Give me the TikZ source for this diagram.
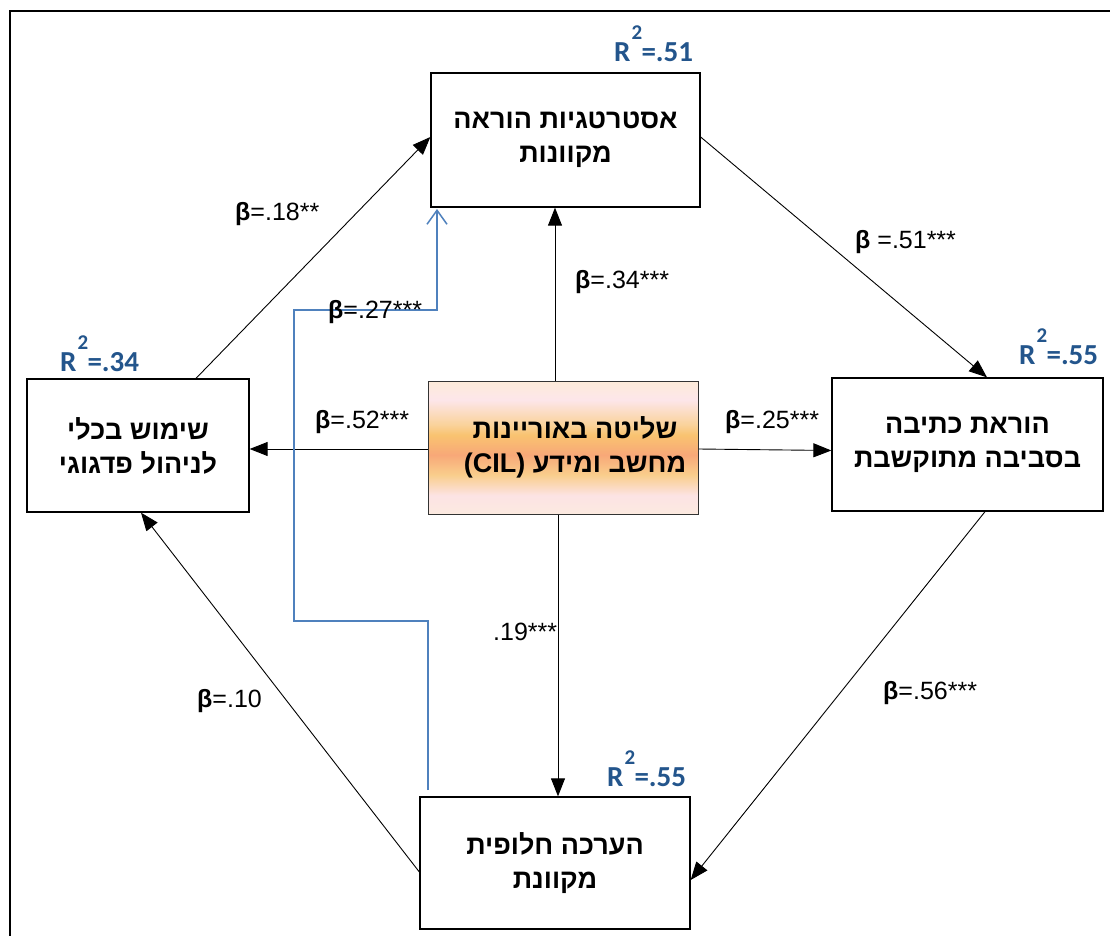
\documentclass[tikz,border=0pt]{standalone}
\usepackage{fontspec}
\setmainfont{Liberation Sans}
\newfontfamily\heb[Script=Hebrew]{Liberation Sans}
\newfontfamily\calib{Carlito}
\TeXXeTstate=1
\usetikzlibrary{arrows.meta,calc}
\definecolor{rblue}{RGB}{35,85,140}
\definecolor{lblue}{RGB}{79,129,189}
\definecolor{sA}{RGB}{252,234,224}
\definecolor{sB}{RGB}{252,227,228}
\definecolor{sC}{RGB}{249,206,140}
\definecolor{sD}{RGB}{248,168,120}
\definecolor{sE}{RGB}{249,195,112}
\definecolor{sF}{RGB}{250,210,154}
\definecolor{sG}{RGB}{253,230,234}
\definecolor{sH}{RGB}{253,235,217}
\pgfdeclareverticalshading{cilshade}{100bp}{color(0bp)=(sA); color(25bp)=(sA); color(32bp)=(sB); color(39.7bp)=(sC); color(47.2bp)=(sD); color(54.7bp)=(sE); color(58.5bp)=(sF); color(67.9bp)=(sG); color(75bp)=(sH); color(100bp)=(sH)}
\tikzset{
  box/.style={draw=black, line width=1.3pt, align=center, inner sep=0pt,
    font=\heb\bfseries\fontsize{27}{34}\selectfont},
  conn/.style={line width=0.9pt, -{Triangle[length=18pt,width=14pt]}},
  lab/.style={font=\fontsize{25}{28}\selectfont, inner sep=0pt, anchor=base west},
  rlab/.style={font=\calib\bfseries\fontsize{29}{32}\selectfont, text=rblue, inner sep=0pt, anchor=base west},
}
\newcommand{\rsq}[1]{R\rlap{\hspace{1pt}\raisebox{22pt}{\fontsize{21}{21}\selectfont\bfseries 2}}\hspace{0.38em}#1}
\newcommand{\bt}{\textbf{β}}
\begin{document}
\begin{tikzpicture}[x=1pt,y=-1pt]
\useasboundingbox (0,0) rectangle (1110,936);
\fill[white] (0,0) rectangle (1110,936);
\draw[line width=2pt] (10,936) -- (10,11) -- (1110,11);

\node[box, minimum width=269pt, minimum height=134pt] (top) at (565.5,140)
  {\beginR אסטרטגיות הוראה\endR\\\beginR מקוונות\endR};
\node[box, draw=black!80, line width=1pt, shading=cilshade, minimum width=270pt, minimum height=133pt] (cil) at (563,447.5)
  {\hspace*{24pt}\beginR שליטה באוריינות\endR\\\hspace*{24pt}\beginR מחשב ומידע \beginL(CIL)\endL\endR};
\node[box, minimum width=222pt, minimum height=133pt] (left) at (138,445.5)
  {\beginR שימוש בכלי\endR\\\beginR לניהול פדגוגי\endR};
\node[box, minimum width=271pt, minimum height=133pt] (right) at (967.5,444.5)
  {\beginR הוראת כתיבה\endR\\\beginR בסביבה מתוקשבת\endR};
\node[box, minimum width=270pt, minimum height=132pt] (bot) at (555,863)
  {\beginR הערכה חלופית\endR\\\beginR מקוונת\endR};

% connectors
\draw[conn] ([xshift=58pt]left.north) -- ([yshift=3pt]top.west);
\draw[conn] ([yshift=3pt]top.east) -- ([xshift=19.5pt]right.north);
\draw[conn] ([xshift=17.5pt]right.south) -- ([yshift=-17pt]bot.east);
\draw[conn] ([yshift=-9pt]bot.west) -- ([xshift=3pt]left.south);
\draw[conn] ([xshift=-8pt]cil.north) -- ([xshift=-8pt]cil.north |- top.south);
\draw[conn] ([yshift=-1.5pt]cil.west) -- ([yshift=-1.5pt]cil.west -| left.east);
\draw[conn] ([yshift=-1.5pt]cil.east) -- ([yshift=-6pt]right.west);
\draw[conn] ([xshift=-5pt]cil.south) -- ([xshift=-5pt]cil.south |- bot.north);

% blue path
\coordinate (bs) at (428,790);
\coordinate (be) at (437,209);
\draw[lblue, line width=1.5pt, -{Straight Barb[length=14pt,width=20pt,line width=1.5pt]}]
  (bs) -- (428,621) -- (294,621) -- (294,310) -- (437,310) -- (be);

% beta labels
\node[lab] at (235,220) {\bt=.18**};
\node[lab] at (328,318) {\bt=.27***};
\node[lab] at (575,288) {\bt=.34***};
\node[lab] at (855,248) {\bt\ =.51***};
\node[lab] at (315,428) {\bt=.52***};
\node[lab] at (725,428) {\bt=.25***};
\node[lab] at (493,640) {.19***};
\node[lab] at (197,707) {\bt=.10};
\node[lab] at (883,699) {\bt=.56***};

% R squared labels
\node[rlab] at (614,62) {\rsq{=.51}};
\node[rlab] at (60,371) {\rsq{=.34}};
\node[rlab] at (1019,364) {\rsq{=.55}};
\node[rlab] at (607,786) {\rsq{=.55}};
\end{tikzpicture}
\end{document}
